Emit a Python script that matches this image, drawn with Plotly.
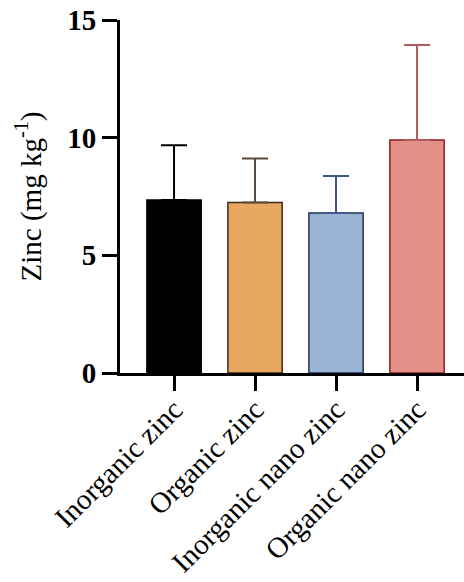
import plotly.graph_objects as go

categories = ["Inorganic zinc", "Organic zinc", "Inorganic nano zinc", "Organic nano zinc"]
means = [7.35, 7.25, 6.8, 9.9]
errors_up = [2.33, 1.86, 1.57, 4.04]
errors_down = [0, 0, 0, 0]
y_ticks = [0, 5, 10, 15]

fills = ["#000000", "#E8A862", "#9BB3D4", "#E5918A"]
outlines = ["#000000", "#3a2a18", "#1f3555", "#8b1f1f"]
err_colors = ["#000000", "#5a4a3a", "#3d5a85", "#b45a5a"]

fig = go.Figure()
for i, cat in enumerate(categories):
    fig.add_trace(go.Bar(
        x=[cat], y=[means[i]],
        marker=dict(color=fills[i], line=dict(color=outlines[i], width=1.5)),
        width=0.67,
        error_y=dict(type="data", symmetric=False, array=[errors_up[i]],
                     arrayminus=[errors_down[i]], color=err_colors[i],
                     thickness=2, width=13),
        showlegend=False,
    ))

font_family = "Liberation Serif"
fig.update_layout(
    width=464, height=582,
    margin=dict(l=120, r=0, t=20, b=209),
    plot_bgcolor="white", paper_bgcolor="white",
    font=dict(family=font_family, color="black"),
    bargap=0.33,
)
fig.update_xaxes(
    range=[-0.667, 3.58], automargin=False,
    showline=True, linecolor="black", linewidth=3,
    ticks="outside", ticklen=15, tickwidth=3, tickcolor="black",
    tickangle=-45, tickfont=dict(size=29, family=font_family),
    ticklabelstandoff=-10,
    showgrid=False, zeroline=False,
)
fig.update_yaxes(
    range=[0, 15], tickvals=y_ticks, automargin=False,
    showline=True, linecolor="black", linewidth=3,
    ticks="outside", ticklen=15, tickwidth=3, tickcolor="black",
    tickfont=dict(size=29, family=font_family, weight="bold"),
    title=dict(text="Zinc (mg kg<sup>-1</sup>)", font=dict(size=29, family=font_family), standoff=18),
    showgrid=False, zeroline=False,
)

fig.write_html("out.html")
